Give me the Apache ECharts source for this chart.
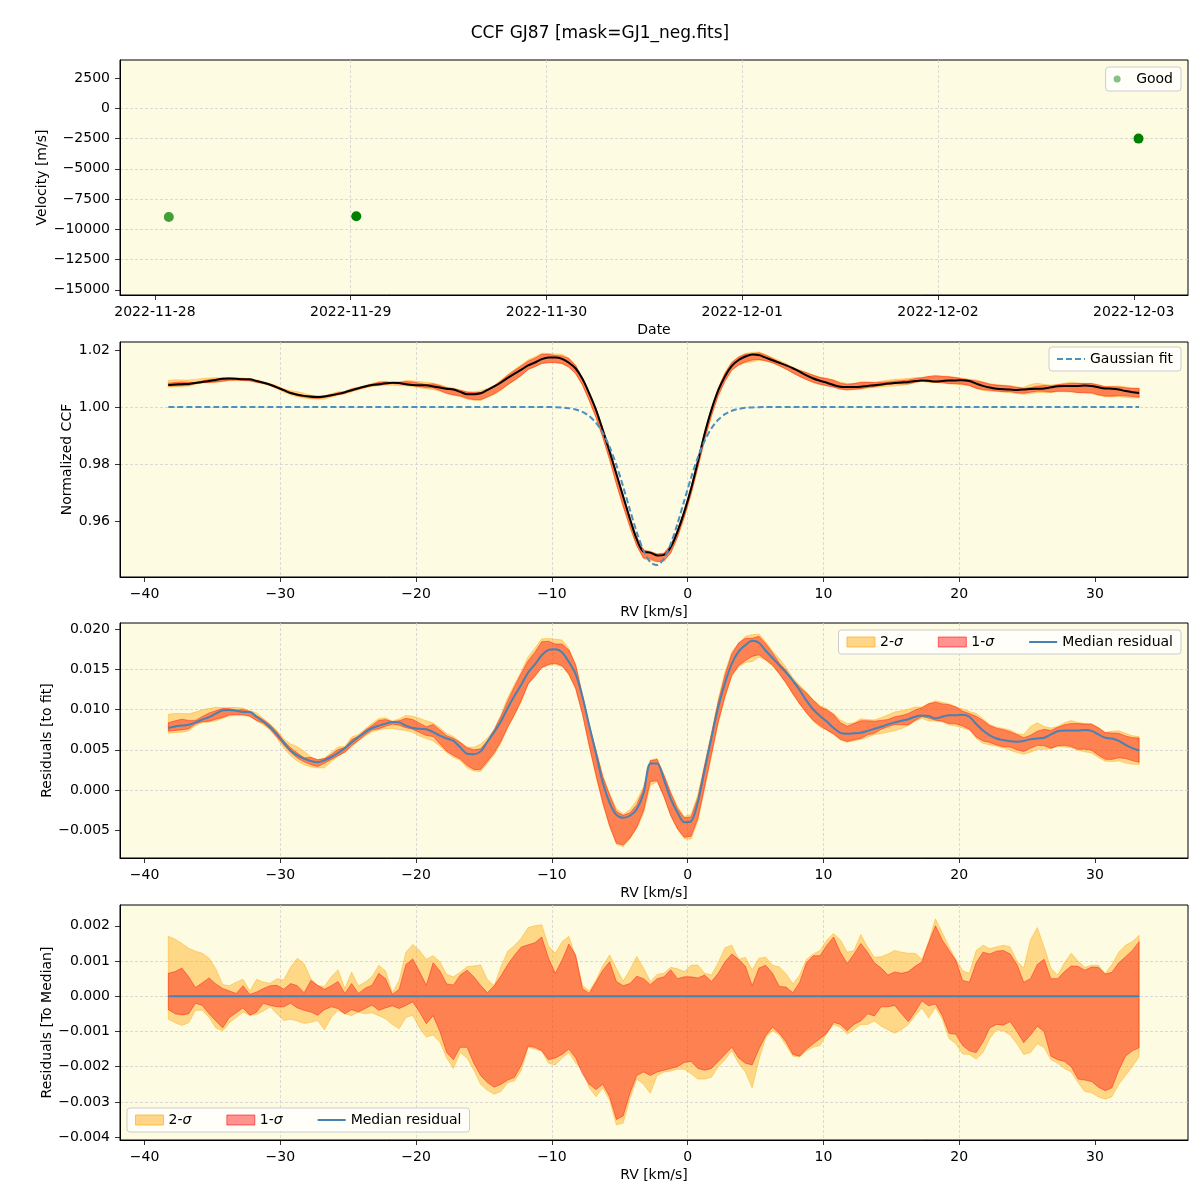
<!DOCTYPE html>
<html>
<head>
<meta charset="utf-8">
<title>CCF GJ87</title>
<script src="https://cdn.jsdelivr.net/npm/echarts@6/dist/echarts.min.js"></script>
<style>
  html, body { margin: 0; padding: 0; background: #ffffff; }
  #chart { width: 1200px; height: 1200px; }
</style>
</head>
<body>
<div id="chart"></div>
<script>
var FONT = 'DejaVu Sans';
var BG = '#fdfbe2';

// ---- top panel: RV time series ----
var obsTimes = ['2022-11-28 01:42', '2022-11-29 00:41', '2022-12-03 00:35'];
var obsVel = [-8983, -8926, -2504];
var obsAlpha = [0.75, 1, 1];
var dateTicks = ['2022-11-28', '2022-11-29', '2022-11-30', '2022-12-01', '2022-12-02', '2022-12-03'];
var velTicks = [-15000, -12500, -10000, -7500, -5000, -2500, 0, 2500];

// ---- RV grid shared by the CCF panels (km/s) ----
var RV_START = -38.25, RV_STEP = 0.5;
var rvTicks = [-40, -30, -20, -10, 0, 10, 20, 30];
var ccfTicks = [0.96, 0.98, 1.00, 1.02];
var residTicks = [-5, 0, 5, 10, 15, 20];        // units of 1e-3
var medTicks = [-4, -3, -2, -1, 0, 1, 2];       // units of 1e-3

// median normalized CCF
var ccfMedian = [
  1.0077, 1.0079, 1.0080, 1.0081, 1.0084, 1.0088, 1.0091, 1.0095,
  1.0099, 1.0100, 1.0099, 1.0097, 1.0097, 1.0091, 1.0085, 1.0078,
  1.0069, 1.0059, 1.0049, 1.0043, 1.0039, 1.0036, 1.0035, 1.0037,
  1.0041, 1.0046, 1.0052, 1.0059, 1.0066, 1.0072, 1.0077, 1.0080,
  1.0083, 1.0085, 1.0084, 1.0080, 1.0077, 1.0076, 1.0076, 1.0072,
  1.0068, 1.0064, 1.0061, 1.0053, 1.0045, 1.0045, 1.0048, 1.0060,
  1.0072, 1.0086, 1.0102, 1.0117, 1.0131, 1.0146, 1.0156, 1.0168,
  1.0174, 1.0174, 1.0169, 1.0155, 1.0135, 1.0099, 1.0048, 0.9990,
  0.9918, 0.9844, 0.9765, 0.9686, 0.9607, 0.9536, 0.9492, 0.9489,
  0.9479, 0.9481, 0.9508, 0.9563, 0.9632, 0.9713, 0.9808, 0.9906,
  0.9990, 1.0058, 1.0108, 1.0144, 1.0165, 1.0177, 1.0184, 1.0182,
  1.0173, 1.0164, 1.0155, 1.0146, 1.0136, 1.0124, 1.0111, 1.0100,
  1.0092, 1.0085, 1.0077, 1.0071, 1.0070, 1.0070, 1.0071, 1.0074,
  1.0076, 1.0079, 1.0082, 1.0084, 1.0086, 1.0088, 1.0091, 1.0093,
  1.0092, 1.0089, 1.0091, 1.0093, 1.0093, 1.0094, 1.0091, 1.0082,
  1.0074, 1.0068, 1.0064, 1.0062, 1.0061, 1.0060, 1.0061, 1.0063,
  1.0064, 1.0065, 1.0069, 1.0073, 1.0074, 1.0074, 1.0074, 1.0075,
  1.0074, 1.0069, 1.0065, 1.0064, 1.0061, 1.0056, 1.0052, 1.0049
];

// gaussian fit
var gaussFit = [
  1, 1, 1, 1, 1, 1, 1, 1,
  1, 1, 1, 1, 1, 1, 1, 1,
  1, 1, 1, 1, 1, 1, 1, 1,
  1, 1, 1, 1, 1, 1, 1, 1,
  1, 1, 1, 1, 1, 1, 1, 1,
  1, 1, 1, 1, 1, 1, 1, 1,
  1, 1, 1, 1, 1, 1, 1, 1,
  1, 0.99992, 0.99981, 0.99958, 0.99912, 0.99827, 0.99681, 0.99445,
  0.99092, 0.98597, 0.97959, 0.97203, 0.96388, 0.95604, 0.94960, 0.94555,
  0.94457, 0.94683, 0.95194, 0.95907, 0.96716, 0.97517, 0.98231, 0.98812,
  0.99249, 0.99552, 0.99749, 0.99867, 0.99934, 0.99969, 0.99986, 0.99994,
  1, 1, 1, 1, 1, 1, 1, 1,
  1, 1, 1, 1, 1, 1, 1, 1,
  1, 1, 1, 1, 1, 1, 1, 1,
  1, 1, 1, 1, 1, 1, 1, 1,
  1, 1, 1, 1, 1, 1, 1, 1,
  1, 1, 1, 1, 1, 1, 1, 1,
  1, 1, 1, 1, 1, 1, 1, 1
];

// median residual to fit (1e-3)
var residMedian = [
  7.7, 7.9, 8.0, 8.1, 8.4, 8.75, 9.05, 9.5,
  9.9, 9.95, 9.85, 9.7, 9.7, 9.1, 8.5, 7.8,
  6.9, 5.9, 4.9, 4.3, 3.9, 3.6, 3.45, 3.7,
  4.1, 4.6, 5.2, 5.9, 6.6, 7.2, 7.7, 8.0,
  8.25, 8.45, 8.4, 8.0, 7.7, 7.6, 7.55, 7.2,
  6.75, 6.4, 6.1, 5.3, 4.5, 4.45, 4.8, 6.0,
  7.2, 8.55, 10.2, 11.7, 13.1, 14.6, 15.6, 16.75,
  17.4, 17.5, 17.1, 15.9, 14.4, 11.6, 8.0, 4.5,
  0.9, -1.6, -3.1, -3.45, -3.2, -2.4, -0.4, 3.3,
  3.3, 1.3, -1.1, -2.8, -4.0, -3.9, -1.5, 2.5,
  6.5, 10.3, 13.3, 15.7, 17.2, 18.0, 18.55, 18.3,
  17.3, 16.4, 15.5, 14.6, 13.6, 12.4, 11.1, 10.0,
  9.2, 8.5, 7.7, 7.1, 7.0, 7.05, 7.1, 7.35,
  7.6, 7.85, 8.15, 8.4, 8.6, 8.8, 9.1, 9.25,
  9.2, 8.9, 9.1, 9.3, 9.3, 9.35, 9.1, 8.2,
  7.4, 6.8, 6.4, 6.2, 6.05, 6.0, 6.1, 6.3,
  6.4, 6.5, 6.9, 7.3, 7.4, 7.4, 7.4, 7.45,
  7.35, 6.9, 6.5, 6.4, 6.1, 5.6, 5.2, 4.9
];

// spread around the median (1e-3): 2-sigma / 1-sigma upper and lower
var up2 = [
  1.7, 1.62, 1.5, 1.36, 1.28, 1.22, 1.08, 0.78,
  0.33, 0.3, 0.4, 0.48, 0.15, 0.48, 0.4, 0.37,
  0.5, 0.46, 0.82, 1.08, 0.92, 0.5, 0.3, 0.28,
  0.55, 0.75, 0.22, 0.68, 0.3, 0.4, 0.55, 0.88,
  0.72, 0.1, 0.45, 1.25, 1.47, 1.3, 1.05, 1.15,
  0.98, 0.62, 0.55, 0.68, 0.84, 0.86, 0.89, 0.47,
  0.3, 0.84, 1.28, 1.44, 1.65, 1.95, 2.0, 2.03,
  1.42, 1.22, 1.55, 1.7, 1.12, 0.31, 0.15, 0.45,
  0.87, 1.17, 0.79, 0.43, 0.75, 1.13, 0.8, 0.42,
  0.62, 0.65, 0.82, 0.78, 0.7, 0.88, 0.89, 0.65,
  0.6, 0.95, 1.38, 1.45, 1.05, 1.1, 0.75, 1.08,
  1.11, 0.88, 0.83, 0.64, 0.35, 0.6, 1.05, 1.2,
  1.3, 1.6, 1.78, 1.6, 1.25, 1.3, 1.75, 1.4,
  1.11, 1.12, 1.2, 1.3, 1.25, 1.22, 1.22, 1.05,
  1.55, 2.2, 1.8, 1.4, 1.05, 0.73, 0.65, 1.3,
  1.45, 1.35, 1.4, 1.45, 1.4, 1.0, 0.8, 1.6,
  1.95, 1.4, 0.8, 0.6, 0.95, 1.22, 1.0, 0.82,
  0.88, 0.88, 0.65, 0.9, 1.25, 1.45, 1.55, 1.73
];
var up1 = [
  0.65, 0.7, 0.8, 0.55, 0.25, 0.38, 0.52, 0.35,
  0.22, 0.15, 0.08, 0.3, 0.05, 0.12, 0.22, 0.3,
  0.31, 0.2, 0.36, 0.3, 0.1, 0.45, 0.31, 0.2,
  0.3, 0.42, 0.08, 0.36, 0.08, 0.23, 0.31, 0.65,
  0.5, 0.05, 0.2, 0.9, 1.06, 0.7, 0.31, 0.95,
  0.72, 0.35, 0.32, 0.6, 0.74, 0.55, 0.31, 0.1,
  0.3, 0.58, 0.9, 1.17, 1.4, 1.46, 1.52, 1.68,
  1.08, 0.65, 1.03, 1.48, 1.17, 0.22, 0.08, 0.41,
  0.74, 0.98, 0.42, 0.3, 0.36, 0.57, 0.5, 0.33,
  0.5, 0.55, 0.75, 0.5, 0.55, 0.55, 0.52, 0.6,
  0.42, 0.65, 0.98, 1.2, 1.05, 0.85, 0.3, 0.8,
  0.88, 0.65, 0.28, 0.26, 0.1, 0.4, 0.95, 1.15,
  1.15, 1.45, 1.68, 1.25, 0.93, 1.2, 1.5, 1.25,
  0.95, 0.8, 0.6, 0.69, 0.65, 0.7, 0.85, 0.97,
  1.52, 2.0, 1.6, 1.3, 1.02, 0.45, 0.4, 0.95,
  1.25, 1.2, 1.28, 1.3, 1.2, 0.9, 0.4, 0.5,
  0.9, 1.05, 0.5, 0.5, 0.7, 0.86, 0.85, 0.74,
  0.83, 0.82, 0.63, 0.68, 0.95, 1.12, 1.3, 1.55
];
var lo1 = [
  -0.38, -0.5, -0.53, -0.5, -0.2, -0.26, -0.5, -0.7,
  -0.9, -0.6, -0.47, -0.33, -0.54, -0.45, -0.2, -0.26,
  -0.3, -0.3, -0.2, -0.33, -0.4, -0.45, -0.54, -0.38,
  -0.3, -0.35, -0.5, -0.38, -0.45, -0.35, -0.25, -0.4,
  -0.33, -0.27, -0.35, -0.26, -0.16, -0.45, -0.78, -0.55,
  -1.0, -1.6, -1.8, -1.45, -1.45, -1.9, -2.25, -2.45,
  -2.58, -2.5, -2.38, -2.3, -1.95, -1.42, -1.45, -1.55,
  -1.8, -1.75, -1.65, -1.5, -1.75, -2.2, -2.5, -2.65,
  -2.5, -2.85, -3.5, -3.4, -2.75, -2.25, -2.15, -2.25,
  -2.15, -2.1, -2.05, -2.0, -1.88, -1.85, -2.05, -2.1,
  -2.05, -1.85, -1.65, -1.45, -1.75, -1.9, -1.95, -1.5,
  -1.12, -0.88, -1.05, -1.3, -1.65, -1.7, -1.5, -1.35,
  -1.2, -1.05, -0.74, -0.8, -0.98, -0.8, -0.7, -0.5,
  -0.56, -0.3, -0.3, -0.26, -0.5, -0.72, -0.45, -0.13,
  -0.27, -0.22, -0.55, -1.05, -1.08, -1.4, -1.55, -1.6,
  -1.3, -0.9, -0.8, -0.82, -0.72, -1.0, -1.32, -1.1,
  -0.85, -1.0, -1.7, -1.8, -1.85, -2.0, -2.35, -2.38,
  -2.42, -2.58, -2.68, -2.6, -2.1, -1.7, -1.55, -1.46
];
var lo2 = [
  -0.65, -0.75, -0.83, -0.75, -0.4, -0.4, -0.6, -0.9,
  -0.98, -0.75, -0.6, -0.45, -0.54, -0.52, -0.42, -0.3,
  -0.5, -0.69, -0.65, -0.7, -0.77, -0.74, -0.69, -0.95,
  -0.6, -0.4, -0.5, -0.55, -0.45, -0.5, -0.47, -0.55,
  -0.64, -0.8, -0.92, -0.6, -0.54, -0.9, -1.16, -1.1,
  -1.3, -1.75, -2.05, -1.6, -1.75, -2.1, -2.5, -2.67,
  -2.78, -2.7, -2.45, -2.4, -2.1, -1.45, -1.5, -1.55,
  -1.9, -1.95, -1.75, -1.6, -1.9, -2.1, -2.6, -2.85,
  -2.6, -2.95, -3.65, -3.6, -2.9, -2.35, -2.5, -2.75,
  -2.25, -2.15, -2.12, -2.07, -2.07, -2.2, -2.35, -2.35,
  -2.3, -2.0, -1.8, -1.55, -1.9, -2.15, -2.6, -1.8,
  -1.17, -0.98, -1.1, -1.4, -1.7, -1.72, -1.55, -1.45,
  -1.4, -1.05, -0.8, -0.88, -1.08, -0.95, -0.8, -0.8,
  -0.7, -0.85, -0.95, -1.05, -0.95, -0.8, -0.55, -0.33,
  -0.62, -0.32, -0.65, -1.2, -1.35, -1.64, -1.65, -1.78,
  -1.6, -1.2, -0.95, -0.98, -1.1, -1.35, -1.65, -1.6,
  -1.35, -1.45, -1.8, -1.9, -2.05, -2.15, -2.45, -2.7,
  -2.74, -2.86, -2.92, -2.85, -2.5, -2.25, -2.0, -1.72
];
// median of residuals to median: flat zero line over the RV span
var zeroLine = [0, 0];

var rv = residMedian.map(function (_, i) { return RV_START + i * RV_STEP; });

// dates are handled in UTC so that day ticks fall on multiples of one day
function stamp(s) {
  var p = s.split(/[- :]/);
  return Date.UTC(+p[0], +p[1] - 1, +p[2], +(p[3] || 0), +(p[4] || 0));
}
function pad(n) { return (n < 10 ? '0' : '') + n; }
function minus(s) { return String(s).replace('-', '\u2212'); }

var labelStyle = { color: '#000', fontFamily: FONT, fontSize: 14 };

function axis(o) {
  return {
    type: 'value',
    gridIndex: o.grid,
    min: o.min,
    max: o.max,
    minInterval: o.step,
    maxInterval: o.step,
    name: o.name,
    nameLocation: 'middle',
    nameGap: o.gap,
    nameRotate: o.rotate || 0,
    nameMoveOverlap: false,
    nameTextStyle: labelStyle,
    axisLine: { show: true, onZero: false, lineStyle: { color: '#000', width: 1 } },
    axisTick: { show: true, inside: false, length: 5, customValues: o.ticks,
                lineStyle: { color: '#000', width: 0.8 } },
    axisLabel: { customValues: o.ticks, margin: 10, color: '#000', fontFamily: FONT,
                 fontSize: 14, formatter: o.fmt },
    splitLine: { show: true, showMinLine: false, showMaxLine: false,
                 lineStyle: { color: '#d0d0d0', width: 0.8, type: [3, 2] } }
  };
}

function pts(vals) { return vals.map(function (v, i) { return [rv[i], v]; }); }

// filled band between a lower and an upper edge, drawn as one polygon in axis coords
function band(g, name, lower, upper, color) {
  var rows = rv.map(function (x, i) { return [x, lower[i], upper[i]]; });
  return {
    type: 'custom', name: name, xAxisIndex: g, yAxisIndex: g, silent: true, z: 2,
    data: rows, encode: { x: 0, y: [1, 2] },
    itemStyle: { color: color },
    renderItem: function (params, api) {
      if (params.dataIndex !== 0) return null;
      var poly = [];
      for (var i = 0; i < rows.length; i++) poly.push(api.coord([rows[i][0], rows[i][2]]));
      for (var j = rows.length - 1; j >= 0; j--) poly.push(api.coord([rows[j][0], rows[j][1]]));
      return {
        type: 'polygon', shape: { points: poly },
        style: { fill: color, stroke: color, lineWidth: 1, opacity: 0.4 }
      };
    }
  };
}

function shift(base, off, scale) {
  return base.map(function (b, i) { return b + off[i] * scale; });
}

var sigmaRich = { i: { fontStyle: 'italic', fontFamily: FONT, fontSize: 14, color: '#000' } };
function sigmaFmt(name) { return name.replace('\u03c3', '{i|\u03c3}'); }

var legendBox = {
  orient: 'horizontal', selectedMode: false,
  backgroundColor: 'rgba(255,255,255,0.8)', borderColor: '#cccccc', borderWidth: 1,
  borderRadius: 3, padding: [5, 8], itemWidth: 28, itemHeight: 10, itemGap: 35,
  textStyle: { color: '#000', fontFamily: FONT, fontSize: 14, rich: sigmaRich },
  formatter: sigmaFmt
};
function legend(extra) { return Object.assign({}, legendBox, extra); }

var LINE_ICON = 'path://M0,0h28v2h-28z';
var DASH_ICON = 'path://M0,0h6v2h-6z M9,0h6v2h-6z M18,0h6v2h-6z M27,0h1v2h-1z';

var residItems = [
  { name: '2-\u03c3', icon: 'rect', itemStyle: { color: 'rgba(255,165,0,0.45)', borderColor: 'rgba(255,165,0,0.6)', borderWidth: 1 } },
  { name: '1-\u03c3', icon: 'rect', itemStyle: { color: 'rgba(255,0,0,0.42)', borderColor: 'rgba(255,0,0,0.55)', borderWidth: 1 } },
  { name: 'Median residual', icon: LINE_ICON, itemStyle: { color: '#4682b4' } }
];

var series = [];

// panel 1
series.push({
  type: 'scatter', name: 'Good', xAxisIndex: 0, yAxisIndex: 0, symbolSize: 10, silent: true,
  data: obsTimes.map(function (t, i) {
    return { value: [stamp(t), obsVel[i]], itemStyle: { color: 'green', opacity: obsAlpha[i] } };
  }),
  itemStyle: { color: 'green' }
});

// panel 2
series.push(band(1, 'ccf 2s', shift(ccfMedian, lo2, 1e-3), shift(ccfMedian, up2, 1e-3), '#ffa500'));
series.push(band(1, 'ccf 1s', shift(ccfMedian, lo1, 1e-3), shift(ccfMedian, up1, 1e-3), '#ff0000'));
series.push({
  type: 'line', name: 'CCF median', xAxisIndex: 1, yAxisIndex: 1, symbol: 'none', smooth: 0.3,
  data: pts(ccfMedian), lineStyle: { color: '#000', width: 2 }, z: 3, silent: true
});
series.push({
  type: 'line', name: 'Gaussian fit', xAxisIndex: 1, yAxisIndex: 1, symbol: 'none', smooth: 0.3,
  data: pts(gaussFit), itemStyle: { color: '#4a90c0' },
  lineStyle: { color: '#4a90c0', width: 2, type: [6, 3] }, z: 4, silent: true
});

// panel 3
series.push(band(2, '2-\u03c3', shift(residMedian, lo2, 1), shift(residMedian, up2, 1), '#ffa500'));
series.push(band(2, '1-\u03c3', shift(residMedian, lo1, 1), shift(residMedian, up1, 1), '#ff0000'));
series.push({
  type: 'line', name: 'Median residual', xAxisIndex: 2, yAxisIndex: 2, symbol: 'none', smooth: 0.3,
  data: pts(residMedian), itemStyle: { color: '#4682b4' },
  lineStyle: { color: '#4682b4', width: 2 }, z: 3, silent: true
});

// panel 4
series.push(band(3, '2-\u03c3', lo2, up2, '#ffa500'));
series.push(band(3, '1-\u03c3', lo1, up1, '#ff0000'));
series.push({
  type: 'line', name: 'Median residual', xAxisIndex: 3, yAxisIndex: 3, symbol: 'none',
  data: [[rv[0], zeroLine[0]], [rv[rv.length - 1], zeroLine[1]]], itemStyle: { color: '#4682b4' },
  lineStyle: { color: '#4682b4', width: 2 }, z: 3, silent: true
});

var rvFmt = function (v) { return minus(v); };
var dateFmt = function (v) {
  var d = new Date(v);
  return d.getUTCFullYear() + '-' + pad(d.getUTCMonth() + 1) + '-' + pad(d.getUTCDate());
};

function grid(top) {
  return { left: 120, right: 12, top: top, height: 235, show: true, backgroundColor: BG,
           borderColor: '#000', borderWidth: 1, containLabel: false, outerBoundsMode: 'none' };
}

var option = {
  animation: false,
  backgroundColor: '#ffffff',
  title: {
    text: 'CCF GJ87 [mask=GJ1_neg.fits]', left: 'center', top: 20,
    textStyle: { color: '#000', fontFamily: FONT, fontSize: 17, fontWeight: 'normal' }
  },
  grid: [grid(60), grid(342), grid(623), grid(905)],
  xAxis: [
    axis({ grid: 0, min: stamp('2022-11-27 19:43'), max: stamp('2022-12-03 06:39'),
           step: 86400000, ticks: dateTicks.map(stamp), fmt: dateFmt, name: 'Date', gap: 28 }),
    axis({ grid: 1, min: -41.81, max: 36.85, step: 10, ticks: rvTicks, fmt: rvFmt, name: 'RV [km/s]', gap: 28 }),
    axis({ grid: 2, min: -41.81, max: 36.85, step: 10, ticks: rvTicks, fmt: rvFmt, name: 'RV [km/s]', gap: 28 }),
    axis({ grid: 3, min: -41.81, max: 36.85, step: 10, ticks: rvTicks, fmt: rvFmt, name: 'RV [km/s]', gap: 28 })
  ],
  yAxis: [
    axis({ grid: 0, min: -15430, max: 3992, step: 2500, ticks: velTicks, fmt: rvFmt,
           name: 'Velocity [m/s]', gap: 71, rotate: 90 }),
    axis({ grid: 1, min: 0.94035, max: 1.0228, step: 0.02, ticks: ccfTicks,
           fmt: function (v) { return v.toFixed(2); }, name: 'Normalized CCF', gap: 46, rotate: 90 }),
    axis({ grid: 2, min: -8.45, max: 20.75, step: 5, ticks: residTicks,
           fmt: function (v) { return minus((v / 1000).toFixed(3)); }, name: 'Residuals [to fit]', gap: 66, rotate: 90 }),
    axis({ grid: 3, min: -4.08, max: 2.59, step: 1, ticks: medTicks,
           fmt: function (v) { return minus((v / 1000).toFixed(3)); }, name: 'Residuals [To Median]', gap: 66, rotate: 90 })
  ],
  legend: [
    legend({ right: 19, top: 67, itemHeight: 7,
             data: [{ name: 'Good', icon: 'circle', itemStyle: { color: 'rgba(0,128,0,0.6)' } }] }),
    legend({ right: 19, top: 347,
             data: [{ name: 'Gaussian fit', icon: DASH_ICON, itemStyle: { color: '#4a90c0' } }] }),
    legend({ right: 19, top: 630, data: residItems }),
    legend({ left: 127, top: 1108, data: residItems })
  ],
  series: series
};

var chart = echarts.init(document.getElementById('chart'), null, { renderer: 'canvas' });
chart.setOption(option);
</script>
</body>
</html>
